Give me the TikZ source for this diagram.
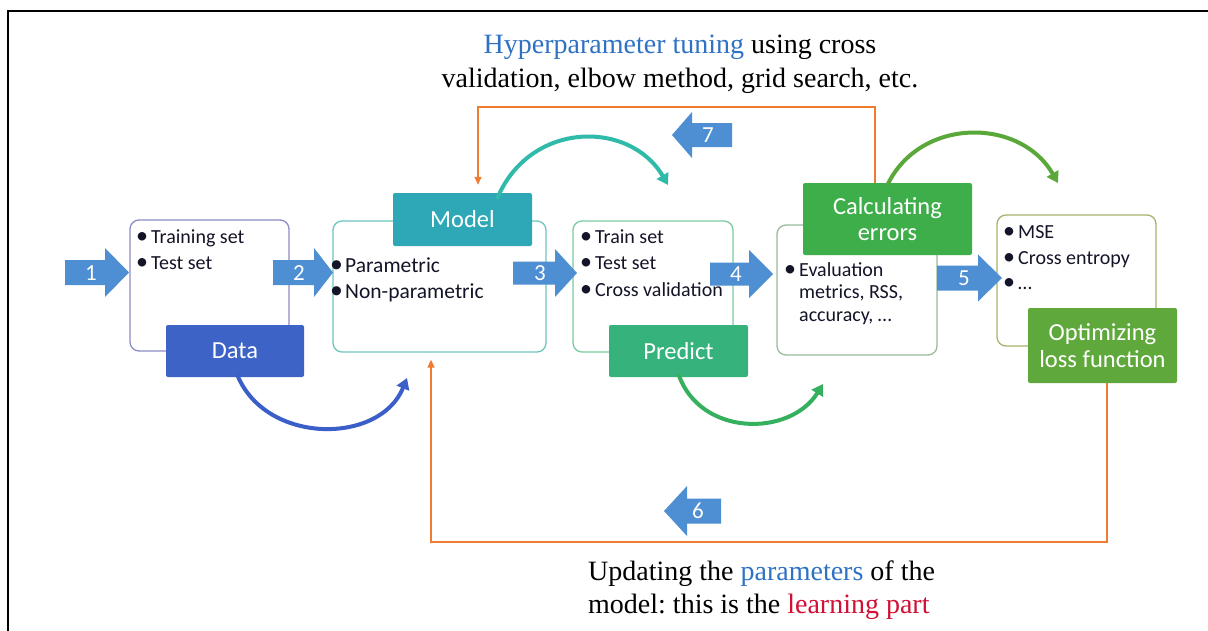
\documentclass[tikz,border=0pt]{standalone}
\usepackage{fontspec}
\setmainfont{Liberation Serif}
\newfontfamily\calfont{Carlito}
\usetikzlibrary{arrows.meta}
\frenchspacing

\definecolor{stepblue}{HTML}{4E8ED2}
\definecolor{itemtext}{HTML}{141428}
\definecolor{dataedge}{HTML}{8C8CC8}
\definecolor{modeledge}{HTML}{6CC6BE}
\definecolor{predictedge}{HTML}{7ACBA2}
\definecolor{evaledge}{HTML}{98BC9C}
\definecolor{mseedge}{HTML}{A9B26C}
\definecolor{datafill}{HTML}{3C63C5}
\definecolor{modelfill}{HTML}{2EA8B6}
\definecolor{predictfill}{HTML}{36B27C}
\definecolor{calcfill}{HTML}{3EAE4A}
\definecolor{optfill}{HTML}{5FA83B}
\definecolor{swblue}{HTML}{3B5FC8}
\definecolor{swteal}{HTML}{2FBAA9}
\definecolor{swgreen}{HTML}{34B05E}
\definecolor{swolive}{HTML}{5AA83A}
\definecolor{loopor}{HTML}{F07C32}
\definecolor{tuneblue}{HTML}{2F72C4}
\definecolor{learnred}{HTML}{D01035}

% bullet followed by a fixed hanging gap
\newcommand\itembullet{\makebox[15pt][l]{\scalebox{1.2}{\textbullet}}}
% block arrow: tail x, head base x, tip x, centre y, half body, half head
\newcommand\blockarrow[6]{%
  \fill[stepblue] (#1,#4-#5) -- (#2,#4-#5) -- (#2,#4-#6) -- (#3,#4)
    -- (#2,#4+#6) -- (#2,#4+#5) -- (#1,#4+#5) -- cycle;}

\tikzset{
  panel/.style={draw=#1, line width=1.3pt, rounded corners=9pt, fill=white, inner sep=0pt},
  tag/.style={fill=#1, rounded corners=2pt, text=white, align=center, inner sep=0pt,
    font=\calfont\fontsize{24.5}{26.5}\selectfont},
  item/.style={anchor=base west, inner sep=0pt, text=itemtext,
    font=\calfont\fontsize{20}{23}\selectfont},
  bigitem/.style={item, font=\calfont\fontsize{21.5}{25}\selectfont},
  stepnum/.style={text=white, inner sep=0pt, font=\calfont\fontsize{23}{23}\selectfont},
  swoop/.style={draw=#1, line width=4pt, -{Triangle[length=11pt,width=13pt]}},
  loopline/.style={draw=loopor, line width=1.5pt, -{Triangle[length=8pt,width=7pt]}},
  caption/.style={inner sep=0pt, font=\fontsize{28}{33}\selectfont},
}

\begin{document}
\begin{tikzpicture}[x=1pt,y=-1pt]
\useasboundingbox (0,0) rectangle (1208,630);
\fill[white] (0,0) rectangle (1208,630);

% outer frame
\draw[line width=2.2pt] (8,631) -- (8,11) -- (1209,11);

% titles
\node[caption, anchor=base] (tune1) at (680,53)
  {\textcolor{tuneblue}{Hyperparameter tuning} using cross};
\node[caption, anchor=base] (tune2) at (680,87)
  {validation, elbow method, grid search, etc.};
\node[caption, anchor=base west] (learn1) at (588,580)
  {Updating the \textcolor{tuneblue}{parameters} of the};
\node[caption, anchor=base west] (learn2) at (588,613)
  {model: this is the \textcolor{learnred}{learning part}};

% white panels
\node[panel=dataedge, minimum width=159pt, minimum height=131pt] (datab) at (209.5,285.5) {};
\node[panel=modeledge, minimum width=213pt, minimum height=131pt] (modelb) at (439.5,286.5) {};
\node[panel=predictedge, minimum width=160pt, minimum height=131pt] (predb) at (653,286.5) {};
\node[panel=evaledge, minimum width=160pt, minimum height=130pt] (evalb) at (857,290) {};
\node[panel=mseedge, minimum width=159pt, minimum height=131pt] (mseb) at (1076.5,280.5) {};

% panel contents
\node[item] (d1) at (136,243) {\itembullet Training set};
\node[item] (d2) at (136,269) {\itembullet Test set};
\node[bigitem] (m1) at (330,272) {\itembullet Parametric};
\node[bigitem] (m2) at (330,298) {\itembullet Non-parametric};
\node[item] (p1) at (580,243) {\itembullet Train set};
\node[item] (p2) at (580,269) {\itembullet Test set};
\node[item] (p3) at (580,296) {\itembullet Cross validation};
\node[item] (e1) at (784,276) {\itembullet Evaluation};
\node[item] (e2) at (799,298.5) {metrics, RSS,};
\node[item] (e3) at (799,321) {accuracy, …};
\node[item] (s1) at (1003,238) {\itembullet MSE};
\node[item] (s2) at (1003,264) {\itembullet Cross entropy};
\node[item] (s3) at (1003,289) {\itembullet …};

% coloured tags
\node[tag=datafill, minimum width=138pt, minimum height=52pt] (data) at (235,351) {Data};
\node[tag=modelfill, minimum width=139pt, minimum height=53pt] (model) at (462.5,219.5) {Model};
\node[tag=predictfill, minimum width=139pt, minimum height=52pt] (predict) at (678.5,351) {Predict};
\node[tag=calcfill, minimum width=169pt, minimum height=72pt] (calc) at (887.5,219) {Calculating\\errors};
\node[tag=optfill, minimum width=149pt, minimum height=75pt] (opt) at (1102.5,345.5) {Optimizing\\loss function};

% numbered block arrows
\blockarrow{65}{105}{129}{272.5}{12.5}{24.5}
\blockarrow{273}{314}{333}{272.5}{12.5}{24.5}
\blockarrow{513}{555}{577}{273}{11.5}{24}
\blockarrow{710}{749}{773}{274}{11.5}{24}
\blockarrow{937}{978}{1002}{278}{12.5}{23.5}
\blockarrow{732}{692}{672}{135}{12}{23}
\blockarrow{721}{687}{664}{511}{12.5}{25}
\node[stepnum] (n1) at (91,273) {1};
\node[stepnum] (n2) at (299,273) {2};
\node[stepnum] (n3) at (540,273) {3};
\node[stepnum] (n4) at (736,274) {4};
\node[stepnum] (n5) at (964,278) {5};
\node[stepnum] (n7) at (708,135) {7};
\node[stepnum] (n6) at (698,511) {6};

% curved flow arrows
\coordinate (blueEnd) at (407,378);
\coordinate (tealEnd) at (668,185);
\coordinate (greenEnd) at (823,384);
\coordinate (oliveEnd) at (1058,183);
\draw[swoop=swblue] ([xshift=2pt,yshift=3pt]data.south) .. controls (265,445) and (380,445) .. (blueEnd);
\draw[swoop=swteal] ([xshift=34.5pt,yshift=-6pt]model.north) .. controls (530,120) and (630,120) .. (tealEnd);
\draw[swoop=swgreen] ([yshift=3pt]predict.south) .. controls (700,437) and (790,437) .. (greenEnd);
\draw[swoop=swolive] ([yshift=-2pt]calc.north) .. controls (920,117) and (1020,117) .. (oliveEnd);

% feedback loops
\draw[loopline, shorten >=8pt] ([xshift=-12.5pt]calc.north) -- ++(0,-76) -| ([xshift=15.5pt]model.north);
\draw[loopline, shorten >=7pt] ([xshift=4.5pt]opt.south) -- ++(0,159) -| ([xshift=-8.5pt]modelb.south);
\end{tikzpicture}
\end{document}
